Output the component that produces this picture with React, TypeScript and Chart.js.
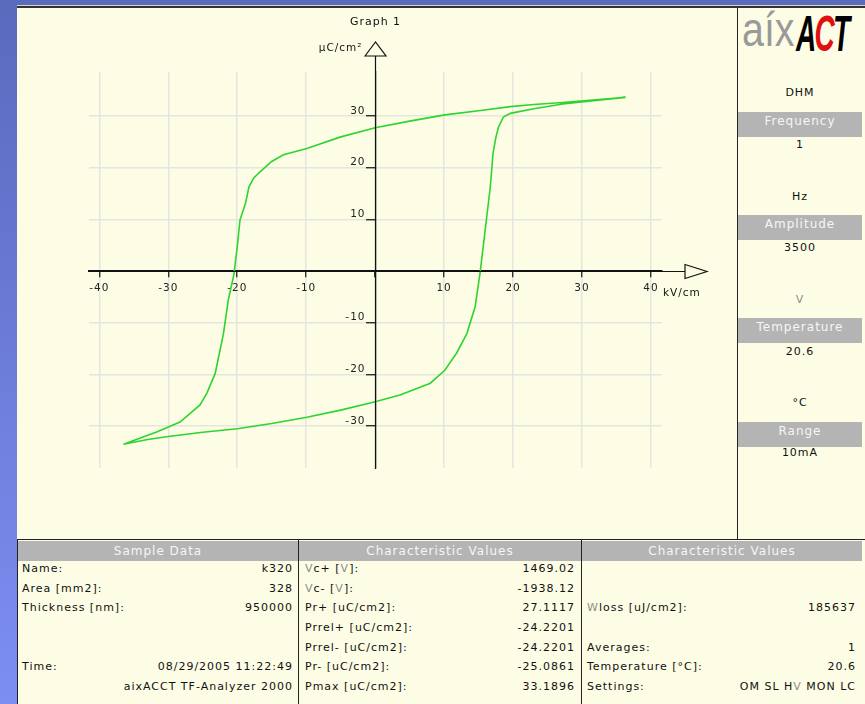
import React, { useEffect, useRef } from 'react';
import { Chart, registerables } from 'chart.js';

Chart.register(...registerables);

// ---------- chart data ----------
const X_TICKS = [-40, -30, -20, -10, 0, 10, 20, 30, 40];
const Y_TICKS = [-30, -20, -10, 0, 10, 20, 30];
const X_MIN = -41.5;
const X_MAX = 41.6;
const Y_MIN = -38.1;
const Y_MAX = 38.5;

// descending branch (from +Emax to -Emax), kV/cm and µC/cm²
const DOWN_E = [36.3, 32, 27.2, 23, 19.6, 15, 10.1, 5, 0, -5.1, -9.9, -13.3, -15, -16.7, -17.6, -18.3, -18.8, -19.6, -20.0, -20.5, -21.3, -22.0, -23.2, -24.4, -25.4, -28.3, -31.6, -36.5];
const DOWN_P = [33.6, 33.1, 32.6, 32.2, 31.8, 31.0, 30.2, 29.0, 27.7, 25.9, 23.7, 22.5, 21.2, 19.2, 18.0, 16.3, 13.1, 9.9, 4.7, -0.8, -5.6, -12.1, -19.8, -23.6, -25.9, -29.2, -31.1, -33.5];
// ascending branch (from -Emax back to +Emax)
const UP_E = [-36.5, -33, -30, -25, -20, -15, -9.9, -5, 0, 3.6, 8.0, 10.1, 11.8, 13.3, 14.5, 15.2, 15.9, 16.7, 17.1, 17.5, 17.9, 18.6, 19.6, 23, 27.2, 32, 36.3];
const UP_P = [-33.5, -32.6, -32.0, -31.2, -30.5, -29.5, -28.3, -26.9, -25.3, -24.0, -21.7, -19.2, -15.9, -12.1, -6.9, -0.5, 7.3, 16.3, 22.8, 25.8, 27.9, 29.8, 30.5, 31.4, 32.3, 33.0, 33.6];

const TITLE = 'Graph 1';
const X_UNIT = 'kV/cm';
const Y_UNIT = 'µC/cm²';

// ---------- side / table texts ----------
const SAMPLE_ROWS: [number, string, string][] = [
  [0, 'Name:', 'k320'],
  [1, 'Area [mm2]:', '328'],
  [2, 'Thickness [nm]:', '950000'],
  [5, 'Time:', '08/29/2005 11:22:49'],
  [6, '', 'aixACCT TF-Analyzer 2000'],
];
const CHAR_ROWS: [number, string, string][] = [
  [0, 'Vc+ [V]:', '1469.02'],
  [1, 'Vc- [V]:', '-1938.12'],
  [2, 'Pr+ [uC/cm2]:', '27.1117'],
  [3, 'Prrel+ [uC/cm2]:', '-24.2201'],
  [4, 'Prrel- [uC/cm2]:', '-24.2201'],
  [5, 'Pr- [uC/cm2]:', '-25.0861'],
  [6, 'Pmax [uC/cm2]:', '33.1896'],
];
const CHAR2_ROWS: [number, string, string][] = [
  [2, 'Wloss [uJ/cm2]:', '185637'],
  [4, 'Averages:', '1'],
  [5, 'Temperature [°C]:', '20.6'],
  [6, 'Settings:', 'OM SL HV MON LC'],
];
const SIDE_ITEMS: [string, string, number][] = [
  ['text', 'DHM', 93],
  ['bar', 'Frequency', 112],
  ['text', '1', 145],
  ['text', 'Hz', 197],
  ['bar', 'Amplitude', 215],
  ['text', '3500', 248],
  ['text', 'V', 300],
  ['bar', 'Temperature', 318],
  ['text', '20.6', 352],
  ['text', '°C', 403],
  ['bar', 'Range', 422],
  ['text', '10mA', 453],
];
const ROW_Y = [569, 588.5, 608, 628, 647.5, 667, 686.5];

const FONT = '"DejaVu Sans", sans-serif';
const GRID = '#e6e6df';
const CREAM = '#fdfde6';
const GREEN = '#2ed42e';

function fmt(s: string) {
  const parts = s.split(/([VW])/);
  return parts.map((p, i) =>
    p === 'V' || p === 'W' ? (
      <span key={i} style={{ color: '#8c8c8c' }}>{p}</span>
    ) : (
      <React.Fragment key={i}>{p}</React.Fragment>
    )
  );
}

const axisDecor = {
  id: 'axisDecor',
  beforeDraw(chart: any) {
    try { chart.ctx.letterSpacing = '1px'; } catch (e) {}
  },
  afterDraw(chart: any) {
    const ctx = chart.ctx;
    const xs = chart.scales.x;
    const ys = chart.scales.y;
    const area = chart.chartArea;
    const x0 = Math.round(xs.getPixelForValue(0)) + 0.5;
    const y0 = Math.round(ys.getPixelForValue(0)) + 0.5;
    ctx.save();
    ctx.strokeStyle = '#111';
    ctx.lineWidth = 1.2;
    // axis extensions
    ctx.beginPath();
    ctx.moveTo(area.left - 1, y0);
    ctx.lineTo(area.right + 23, y0);
    ctx.moveTo(x0, area.bottom + 1);
    ctx.lineTo(x0, area.top - 16);
    ctx.stroke();
    // x arrow
    const ax = area.right + 23;
    ctx.fillStyle = CREAM;
    ctx.beginPath();
    ctx.moveTo(ax, y0 - 7);
    ctx.lineTo(ax + 22, y0);
    ctx.lineTo(ax, y0 + 7);
    ctx.closePath();
    ctx.fill();
    ctx.stroke();
    // y arrow
    const ay = area.top - 16;
    ctx.beginPath();
    ctx.moveTo(x0 - 10.5, ay);
    ctx.lineTo(x0, ay - 14);
    ctx.lineTo(x0 + 10.5, ay);
    ctx.closePath();
    ctx.fill();
    ctx.stroke();
    // y tick labels (left of the centred axis, sitting on the tick mark)
    ctx.fillStyle = '#222';
    ctx.font = '10.5px ' + FONT;
    ctx.textBaseline = 'middle';
    ctx.textAlign = 'right';
    Y_TICKS.forEach((v) => {
      if (v === 0) return;
      ctx.fillText(String(v), x0 - 10, ys.getPixelForValue(v) - 5);
    });
    // unit labels
    ctx.fillStyle = '#111';
    ctx.textAlign = 'right';
    ctx.fillText(Y_UNIT, x0 - 13, ay - 8);
    ctx.textAlign = 'left';
    ctx.fillText(X_UNIT, area.right + 1, y0 + 22);
    ctx.restore();
  },
};

function HysteresisChart() {
  const ref = useRef<HTMLCanvasElement | null>(null);
  useEffect(() => {
    if (!ref.current) return;
    const down = DOWN_E.map((e, i) => ({ x: e, y: DOWN_P[i] }));
    const up = UP_E.map((e, i) => ({ x: e, y: UP_P[i] }));
    const tickFont = { family: FONT, size: 10.5 };
    const chart = new Chart(ref.current, {
      type: 'scatter',
      data: {
        datasets: [
          {
            data: [...down, ...up],
            showLine: true,
            borderColor: GREEN,
            backgroundColor: GREEN,
            borderWidth: 1.6,
            pointRadius: 0,
            tension: 0,
          },
        ],
      },
      options: {
        animation: false,
        responsive: false,
        devicePixelRatio: 1,
        layout: { padding: { left: 72, right: 75, top: 0, bottom: 71 } },
        plugins: {
          legend: { display: false },
          tooltip: { enabled: false },
          title: {
            display: true,
            text: TITLE,
            color: '#111',
            font: { family: FONT, size: 11, weight: 'normal' },
            padding: { top: 7.4, bottom: 43.4 },
          },
        },
        scales: {
          x: {
            type: 'linear',
            min: X_MIN,
            max: X_MAX,
            position: { y: 0 },
            afterFit: (s: any) => { s.height = 0; },
            afterBuildTicks: (s: any) => { s.ticks = X_TICKS.map((v) => ({ value: v })); },
            grid: {
              color: (c: any) => (c.tick && c.tick.value === 0 ? 'rgba(0,0,0,0)' : GRID),
              lineWidth: 1.5,
              tickColor: '#111',
              tickWidth: 1.2,
              tickLength: 6,
              drawTicks: true,
            },
            border: { display: true, color: '#111', width: 1.2 },
            ticks: {
              callback: (v: any) => (v === 0 ? '' : String(v)),
              font: tickFont,
              color: '#222',
              padding: 5,
              maxRotation: 0,
              autoSkip: false,
            },
          },
          y: {
            type: 'linear',
            min: Y_MIN,
            max: Y_MAX,
            position: { x: 0 },
            afterFit: (s: any) => { s.width = 0; },
            afterBuildTicks: (s: any) => { s.ticks = Y_TICKS.map((v) => ({ value: v })); },
            grid: {
              color: (c: any) => (c.tick && c.tick.value === 0 ? 'rgba(0,0,0,0)' : GRID),
              lineWidth: 1.5,
              tickColor: '#111',
              tickWidth: 1.2,
              tickLength: 9,
              drawTicks: true,
            },
            border: { display: true, color: '#111', width: 1.2 },
            ticks: { display: false },
          },
        },
      } as any,
      plugins: [axisDecor],
    });
    return () => chart.destroy();
  }, []);
  return (
    <canvas
      ref={ref}
      width={720}
      height={531}
      style={{ position: 'absolute', left: 17, top: 8, width: 720, height: 531 }}
    />
  );
}

function Center({ left, width, cy, children, color = '#111', size = 11 }: any) {
  return (
    <div
      style={{
        position: 'absolute', left, width, top: cy - 8, height: 16, lineHeight: '16px',
        textAlign: 'center', color, fontSize: size, whiteSpace: 'nowrap',
      }}
    >
      {children}
    </div>
  );
}

function Bar({ left, width, top, height, text, cy }: any) {
  return (
    <div style={{ position: 'absolute', left, width, top, height, background: '#b4b4b4' }}>
      <div
        style={{
          position: 'absolute', left: 0, right: 0, top: cy - top - 8, height: 16, lineHeight: '16px',
          textAlign: 'center', color: '#f6f6f6', fontSize: 12, whiteSpace: 'nowrap',
        }}
      >
        {text}
      </div>
    </div>
  );
}

function Rows({ rows, labelLeft, valueRight }: any) {
  return (
    <>
      {rows.map(([r, label, value]: [number, string, string]) => (
        <React.Fragment key={r}>
          <div style={{ position: 'absolute', left: labelLeft, top: ROW_Y[r] - 8, height: 16, lineHeight: '16px', whiteSpace: 'nowrap' }}>
            {fmt(label)}
          </div>
          <div style={{ position: 'absolute', right: 865 - valueRight, top: ROW_Y[r] - 8, height: 16, lineHeight: '16px', whiteSpace: 'nowrap', textAlign: 'right' }}>
            {fmt(value)}
          </div>
        </React.Fragment>
      ))}
    </>
  );
}

export default function App() {
  return (
    <div
      style={{
        position: 'fixed', left: 0, top: 0, width: 865, height: 704, overflow: 'hidden',
        background: 'linear-gradient(180deg, #5a6abd 0%, #7d8ef3 100%)',
        fontFamily: FONT, fontSize: 11, letterSpacing: '1px', color: '#111',
      }}
    >
      {/* main panel */}
      <div style={{ position: 'absolute', left: 17, top: 5, width: 848, height: 699, background: CREAM }} />
      <div style={{ position: 'absolute', left: 17, top: 5, width: 848, height: 1, background: '#d4d4d4' }} />
      <div style={{ position: 'absolute', left: 17, top: 6, width: 848, height: 2, background: '#333' }} />
      {/* dividers */}
      <div style={{ position: 'absolute', left: 737, top: 8, width: 1, height: 532, background: '#222' }} />
      <div style={{ position: 'absolute', left: 17, top: 539, width: 848, height: 1, background: '#222' }} />
      <div style={{ position: 'absolute', left: 17, top: 539, width: 1, height: 165, background: '#222' }} />
      <div style={{ position: 'absolute', left: 298, top: 539, width: 1, height: 165, background: '#222' }} />
      <div style={{ position: 'absolute', left: 581, top: 539, width: 1, height: 165, background: '#222' }} />

      <HysteresisChart />

      {/* logo */}
      <div style={{ position: 'absolute', left: 742, top: 6, width: 120, height: 52, letterSpacing: 0 }}>
        <span
          style={{
            position: 'absolute', left: 0, top: 0, fontFamily: '"Liberation Sans", sans-serif',
            fontSize: 48, lineHeight: '48px', color: '#9a9a9a', transform: 'scaleX(0.82)', transformOrigin: 'left top',
          }}
        >
          aíx
        </span>
        <span
          style={{
            position: 'absolute', left: 54, top: 3, fontFamily: '"Liberation Sans", sans-serif', fontWeight: 900,
            fontStyle: 'italic', fontSize: 50, lineHeight: '50px', color: '#000', transform: 'scaleX(0.56)',
            transformOrigin: 'left top', letterSpacing: '-3px',
          }}
        >
          A<span style={{ color: '#e01010' }}>C</span>T
        </span>
      </div>

      {/* side panel */}
      {SIDE_ITEMS.map(([kind, text, y], i) =>
        kind === 'bar' ? (
          <Bar key={i} left={738} width={124} top={y} height={25} text={text} cy={y + 8.5} />
        ) : (
          <Center key={i} left={738} width={124} cy={y} color={text === 'V' ? '#8c8c8c' : '#111'}>
            {text}
          </Center>
        )
      )}

      {/* table headers */}
      <Bar left={18} width={280} top={541} height={20} text="Sample Data" cy={551} />
      <Bar left={299} width={282} top={541} height={20} text="Characteristic Values" cy={551} />
      <Bar left={582} width={280} top={541} height={20} text="Characteristic Values" cy={551} />

      <Rows rows={SAMPLE_ROWS} labelLeft={22} valueRight={293} />
      <Rows rows={CHAR_ROWS} labelLeft={305} valueRight={575} />
      <Rows rows={CHAR2_ROWS} labelLeft={587} valueRight={856} />
    </div>
  );
}
